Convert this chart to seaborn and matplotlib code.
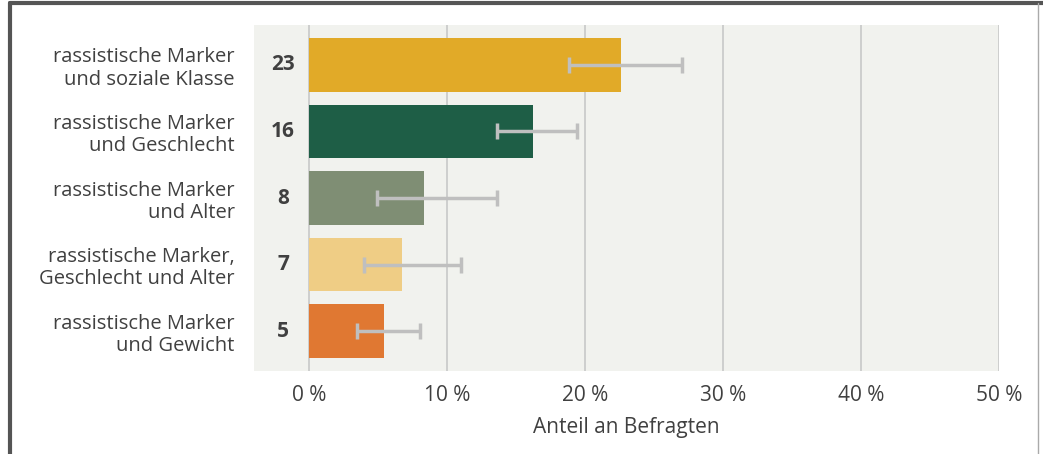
import numpy as np
import pandas as pd
import seaborn as sns
import matplotlib.pyplot as plt

categories = [
    'rassistische Marker\nund soziale Klasse',
    'rassistische Marker\nund Geschlecht',
    'rassistische Marker\nund Alter',
    'rassistische Marker,\nGeschlecht und Alter',
    'rassistische Marker\nund Gewicht',
]
values = [22.6, 16.2, 8.3, 6.7, 5.4]
labels = ['23', '16', '8', '7', '5']
err_low = [18.8, 13.6, 4.9, 4.0, 3.5]
err_high = [27.0, 19.4, 13.6, 11.0, 8.0]
colors = ['#E1AA28', '#1E5E46', '#7F8E74', '#EFCD85', '#E07832']
ticks = [0, 10, 20, 30, 40, 50]

sns.set_style('white')
plt.rcParams['font.family'] = ['Open Sans', 'DejaVu Sans']

df = pd.DataFrame({'cat': categories, 'val': values})

fig = plt.figure(figsize=(10.43, 4.54), dpi=100)
ax = fig.add_axes([254 / 1043, 1 - 371 / 454, (999 - 254) / 1043, (371 - 25) / 454])
ax.set_facecolor('#F1F2EE')

sns.barplot(data=df, y='cat', x='val', hue='cat', palette=colors,
            width=0.8, saturation=1, linewidth=0, legend=False, ax=ax, zorder=3)

# error bars
vals = np.array(values)
xerr = np.array([vals - np.array(err_low), np.array(err_high) - vals])
ax.errorbar(vals, np.arange(len(vals)), xerr=xerr, fmt='none',
            ecolor='#BFBFBF', elinewidth=2.5, capsize=6, capthick=2.5, zorder=4)

for i, lab in enumerate(labels):
    ax.text(-1.9, i, lab, ha='center', va='center', fontsize=15,
            fontweight='bold', color='#404040', zorder=5)

ax.set_xlim(-4, 50)
ax.set_ylim(4.6, -0.6)
ax.set_xticks(ticks)
ax.set_xticklabels([f'{t} %' for t in ticks], fontsize=15, color='#404040')
ax.tick_params(axis='y', labelsize=14.5, labelcolor='#404040', length=0, pad=14)
ax.tick_params(axis='x', length=0, pad=10)
for lab in ax.get_yticklabels():
    lab.set_multialignment('right')
    lab.set_linespacing(1.15)
ax.xaxis.grid(True, color='#C8C8C8', linewidth=1.2, zorder=0)
ax.set_axisbelow(True)
for s in ax.spines.values():
    s.set_visible(False)
ax.set_ylabel('')
ax.set_xlabel('Anteil an Befragten', fontsize=15, color='#404040', labelpad=8)

# frame around figure
fig.add_artist(plt.Line2D([10 / 1043, 10 / 1043], [0, 1 - 3 / 454],
                          transform=fig.transFigure, color='#555555', linewidth=3))
fig.add_artist(plt.Line2D([10 / 1043, 1], [1 - 3 / 454, 1 - 3 / 454],
                          transform=fig.transFigure, color='#555555', linewidth=3))
fig.add_artist(plt.Line2D([1038 / 1043, 1038 / 1043], [0, 1 - 3 / 454],
                          transform=fig.transFigure, color='#AAAAAA', linewidth=1))

fig.savefig('out.png', dpi=100)
